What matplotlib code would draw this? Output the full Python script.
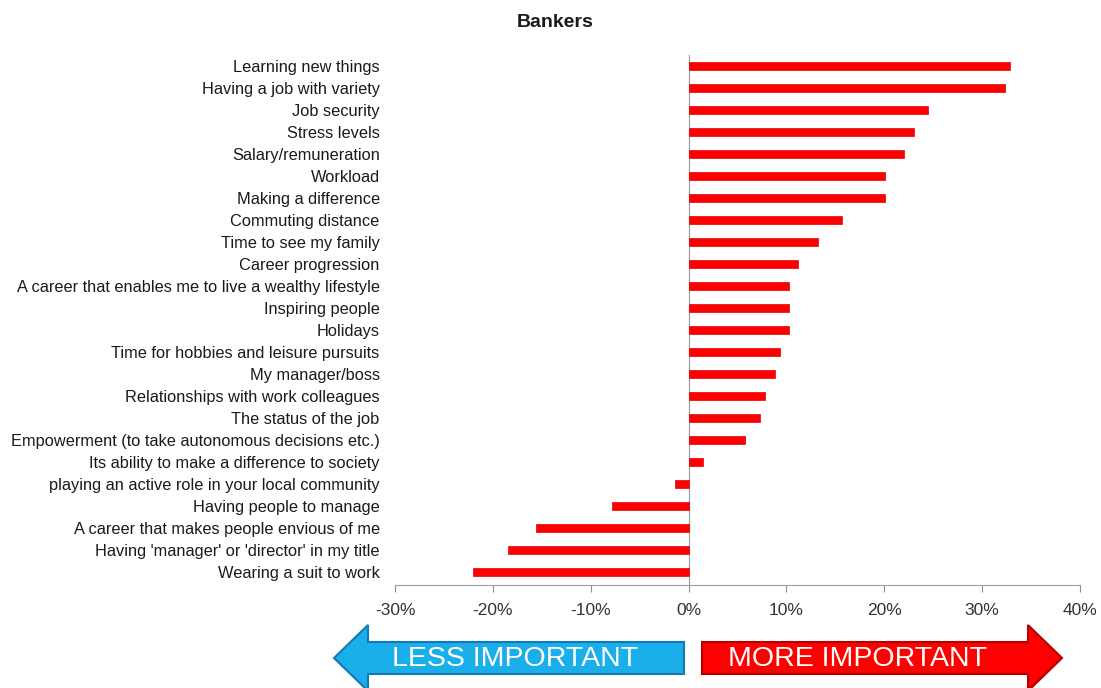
import matplotlib.pyplot as plt
from matplotlib.patches import Polygon
from matplotlib.ticker import FuncFormatter
from matplotlib import font_manager
import numpy as np

plt.rcParams['font.family'] = ['Liberation Sans', 'DejaVu Sans']

title = "Bankers"

factors = [
    "Learning new things",
    "Having a job with variety",
    "Job security",
    "Stress levels",
    "Salary/remuneration",
    "Workload",
    "Making a difference",
    "Commuting distance",
    "Time to see my family",
    "Career progression",
    "A career that enables me to live a wealthy lifestyle",
    "Inspiring people",
    "Holidays",
    "Time for hobbies and leisure pursuits",
    "My manager/boss",
    "Relationships with work colleagues",
    "The status of the job",
    "Empowerment (to take autonomous decisions etc.)",
    "Its ability to make a difference to society",
    "playing an active role in your local community",
    "Having people to manage",
    "A career that makes people envious of me",
    "Having 'manager' or 'director' in my title",
    "Wearing a suit to work",
]

# net change in importance, percent
net_change = [32.8, 32.3, 24.5, 23.0, 22.0, 20.1, 20.1, 15.7, 13.2, 11.2,
              10.3, 10.3, 10.3, 9.3, 8.8, 7.8, 7.3, 5.8, 1.5, -1.4,
              -7.8, -15.6, -18.5, -22.0]

x_ticks = [-30, -20, -10, 0, 10, 20, 30, 40]

names = {f.name for f in font_manager.fontManager.ttflist}
arrow_font = 'Liberation Sans Narrow' if 'Liberation Sans Narrow' in names else 'Liberation Sans'
arrow_size = 24.5 if arrow_font == 'Liberation Sans Narrow' else 20.5

fig = plt.figure(figsize=(11.01, 6.88), dpi=100)
ax = fig.add_axes([395 / 1101, 103 / 688, 685 / 1101, 530 / 688])

y = np.arange(len(factors))
ax.barh(y, net_change, height=0.38, color='#ff0000', edgecolor='#e00000', linewidth=0.5, zorder=3)

ax.set_xlim(-30, 40)
ax.set_ylim(23.59, -0.5)
ax.set_xticks(x_ticks)
ax.xaxis.set_major_formatter(FuncFormatter(lambda v, p: f"{v:.0f}%"))
ax.set_yticks(y)
ax.set_yticklabels(factors, fontsize=11.8, color='#1a1a1a')

ax.tick_params(axis='y', length=0, pad=11)
ax.tick_params(axis='x', direction='out', length=5, width=0.8, color='#909090',
               labelsize=12.5, labelcolor='#333333', pad=8)

for side in ['left', 'right', 'top']:
    ax.spines[side].set_visible(False)
ax.spines['bottom'].set_color('#a0a0a0')
ax.spines['bottom'].set_linewidth(0.8)
ax.axvline(0, color='#a0a0a0', linewidth=0.9, zorder=2)

ax.set_title(title, fontsize=14, fontweight='bold', color='#1a1a1a', x=(555 - 395) / 685, pad=20)

# direction arrows drawn in pixel space below the axis
ov = fig.add_axes([0, 0, 1, 1])
ov.set_xlim(0, 1101)
ov.set_ylim(688, 0)
ov.axis('off')
ov.patch.set_alpha(0)

less = [(334, 658), (368, 625), (368, 642), (684, 642), (684, 674), (368, 674), (368, 691)]
more = [(1062, 658), (1028, 625), (1028, 642), (702, 642), (702, 674), (1028, 674), (1028, 691)]
ov.add_patch(Polygon(less, closed=True, facecolor='#1aaeea', edgecolor='#1577b3', linewidth=1.5))
ov.add_patch(Polygon(more, closed=True, facecolor='#ff0000', edgecolor='#b40000', linewidth=1.5))
ov.text(515, 659, "LESS IMPORTANT", color='white', fontsize=arrow_size, family=arrow_font,
        ha='center', va='center')
ov.text(857, 659, "MORE IMPORTANT", color='white', fontsize=arrow_size, family=arrow_font,
        ha='center', va='center')

fig.savefig("out.png", dpi=100)
